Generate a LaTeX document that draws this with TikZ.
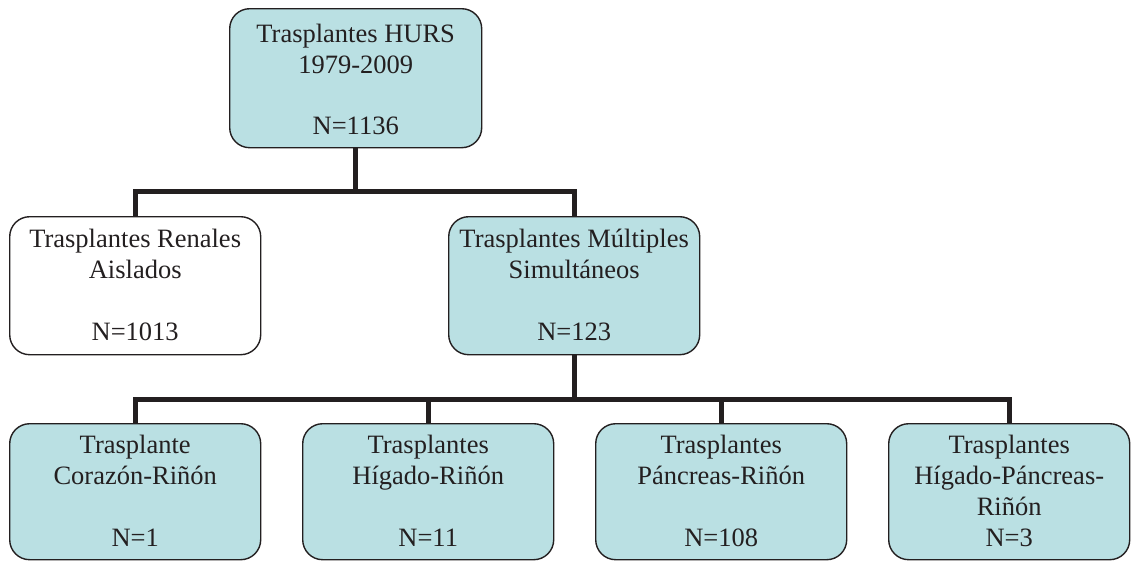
\documentclass[tikz,border=0pt]{standalone}
\usepackage{fontspec}
\setmainfont{Liberation Serif}
\definecolor{boxfill}{RGB}{186,224,227}
\definecolor{ink}{RGB}{35,31,32}
\begin{document}
\begin{tikzpicture}[x=1pt,y=1pt,
  box/.style={draw=ink, line width=1.4pt, rounded corners=20pt, minimum width=251pt,
    inner sep=0pt, anchor=north west},
  filled/.style={box, fill=boxfill},
  label/.style={anchor=base, align=center, inner sep=0pt, text=ink,
    font=\fontsize{26.5}{31}\selectfont},
  conn/.style={draw=ink, line width=5pt}]
\useasboundingbox (0,0) rectangle (1131,-560);

% boxes
\node[filled, minimum width=252pt, minimum height=139pt] (top) at (229,-8) {};
\node[box, minimum height=138pt] (renal) at (9,-216) {};
\node[filled, minimum height=138pt] (mult) at (448,-216) {};
\node[filled, minimum height=136pt] (b1) at (9,-423) {};
\node[filled, minimum height=136pt] (b2) at (302,-423) {};
\node[filled, minimum height=136pt] (b3) at (595,-423) {};
\node[filled, minimum width=241pt, minimum height=136pt] (b4) at (888,-423) {};

% texts, anchored on the baseline of their last line
\node[label] (ttop) at ([yshift=-126pt]top.north) {Trasplantes HURS\\1979-2009\\[30pt]N=1136};
\node[label] (trenal) at ([yshift=-124pt]renal.north) {Trasplantes Renales\\Aislados\\[31pt]N=1013};
\node[label] (tmult) at ([yshift=-124pt]mult.north) {Trasplantes Múltiples\\Simultáneos\\[31pt]N=123};
\node[label] (tb1) at ([yshift=-123pt]b1.north) {Trasplante\\Corazón-Riñón\\[31pt]N=1};
\node[label] (tb2) at ([yshift=-123pt]b2.north) {Trasplantes\\Hígado-Riñón\\[31pt]N=11};
\node[label] (tb3) at ([yshift=-123pt]b3.north) {Trasplantes\\Páncreas-Riñón\\[31pt]N=108};
\node[label] (tb4) at ([yshift=-123pt]b4.north) {Trasplantes\\Hígado-Páncreas-\\Riñón\\N=3};

% connectors
\coordinate (j1) at (top.south |- 0,-191);
\coordinate (j2) at (mult.south |- 0,-399);
\draw[conn] (top.south) -- (j1);
\draw[conn] (renal.north) |- (j1) -| (mult.north);
\draw[conn] (mult.south) -- (j2);
\draw[conn] (b1.north) |- (j2) -| (b4.north);
\draw[conn] (b2.north) -- (b2.north |- j2);
\draw[conn] (b3.north) -- (b3.north |- j2);
\end{tikzpicture}
\end{document}
